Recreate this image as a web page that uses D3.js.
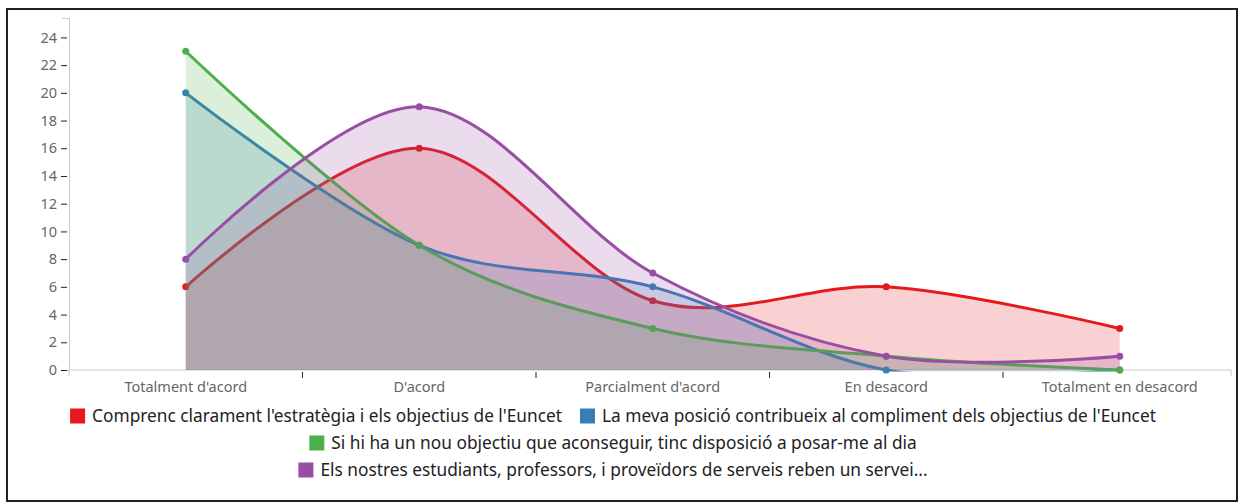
<!DOCTYPE html>
<html><head><meta charset="utf-8">
<script src="https://cdn.jsdelivr.net/npm/d3@7"></script>
<style>
html,body{margin:0;padding:0;background:#fff;}
svg{display:block;font-family:"Noto Sans",sans-serif;}
</style></head>
<body><svg id="c" width="1240" height="504"></svg>
<script>
const categories = ["Totalment d'acord","D'acord","Parcialment d'acord","En desacord","Totalment en desacord"];
const seriesNames = [
  "Comprenc clarament l'estratègia i els objectius de l'Euncet",
  "La meva posició contribueix al compliment dels objectius de l'Euncet",
  "Si hi ha un nou objectiu que aconseguir, tinc disposició a posar-me al dia",
  "Els nostres estudiants, professors, i proveïdors de serveis reben un servei..."
];
const seriesColors = ["#e41a1c","#377eb8","#4daf4a","#984ea3"];
const values1 = [6,16,5,6,3];
const values2 = [20,9,6,0,0];
const values3 = [23,9,3,1,0];
const values4 = [8,19,7,1,1];
const yTicks = [0,2,4,6,8,10,12,14,16,18,20,22,24];
const allValues = [values1,values2,values3,values4];

const svg = d3.select("#c");
svg.append("rect").attr("x",7).attr("y",9).attr("width",1230).attr("height",492)
  .attr("fill","#fff").attr("stroke","#222").attr("stroke-width",2);

svg.append("defs").append("clipPath").attr("id","plotclip")
  .append("rect").attr("x",60).attr("y",0).attr("width",1180).attr("height",371.5);

const x = d3.scaleBand().domain(categories).range([69,1236.5]).padding(0);
const y = d3.scaleLinear().domain([0,25.4]).range([370,18]);
const cx = d => x(d) + x.bandwidth()/2;

// Y axis
const ya = svg.append("g").attr("transform","translate(69,0)")
  .call(d3.axisLeft(y).tickValues(yTicks).tickSize(7).tickPadding(5));
ya.select(".domain").attr("stroke","#ccc");
ya.selectAll(".tick line").attr("stroke","#222").attr("x2",-8).attr("x1",-2);
ya.selectAll(".tick text").attr("fill","#666").style("font-size","14.5px").style("font-family","Noto Sans");

// X axis
const xa = svg.append("g").attr("transform","translate(0,370)")
  .call(d3.axisBottom(x).tickSize(6).tickPadding(6));
xa.select(".domain").attr("stroke","#ccc").attr("d","M69,6V0H1231V6");
xa.selectAll(".tick line").attr("stroke","#222").attr("x1",-x.bandwidth()/2).attr("x2",-x.bandwidth()/2)
  .attr("y1",2).attr("y2",8)
  .attr("display",(d,i)=> i===0 ? "none" : null);
xa.selectAll(".tick text").attr("fill","#666").style("font-size","14.5px").style("font-family","Noto Sans");

// series
const curve = d3.curveCardinal.tension(0);
allValues.forEach((vals,si)=>{
  const data = categories.map((c,i)=>({c, v: vals[i]}));
  const g = svg.append("g");
  const gc = g.append("g").attr("clip-path","url(#plotclip)");
  gc.append("path").datum(data)
    .attr("d", d3.area().x(d=>cx(d.c)).y0(y(0)).y1(d=>y(d.v)).curve(curve))
    .attr("fill", seriesColors[si]).attr("fill-opacity",0.2);
  gc.append("path").datum(data)
    .attr("d", d3.line().x(d=>cx(d.c)).y(d=>y(d.v)).curve(curve))
    .attr("fill","none").attr("stroke",seriesColors[si]).attr("stroke-width",3);
  g.selectAll("circle").data(data).join("circle")
    .attr("cx",d=>cx(d.c)).attr("cy",d=>y(d.v)).attr("r",3.5).attr("fill",seriesColors[si]);
});

// legend
const lg = svg.append("g").style("font-size","17.3px");
const items = seriesNames.map((n,i)=>{
  const g = lg.append("g");
  g.append("rect").attr("y",-0.5).attr("width",15).attr("height",15).attr("fill",seriesColors[i]);
  const t = g.append("text").attr("x",22).attr("y",7).attr("dy","0.35em").attr("fill","#222").text(n);
  return {g, w: 22 + t.node().getComputedTextLength()};
});
const maxW = 1140, gap = 18, rowH = 27, centerX = 613;
let rows = [[]], rw = 0;
items.forEach(it=>{
  const add = (rows[rows.length-1].length ? gap : 0) + it.w;
  if (rows[rows.length-1].length && rw + add > maxW) { rows.push([it]); rw = it.w; }
  else { rows[rows.length-1].push(it); rw += add; }
});
rows.forEach((row,ri)=>{
  const tot = row.reduce((s,it)=>s+it.w,0) + gap*(row.length-1);
  let xx = centerX - tot/2;
  row.forEach(it=>{ it.g.attr("transform",`translate(${xx},${409 + ri*rowH})`); xx += it.w + gap; });
});
</script></body></html>
